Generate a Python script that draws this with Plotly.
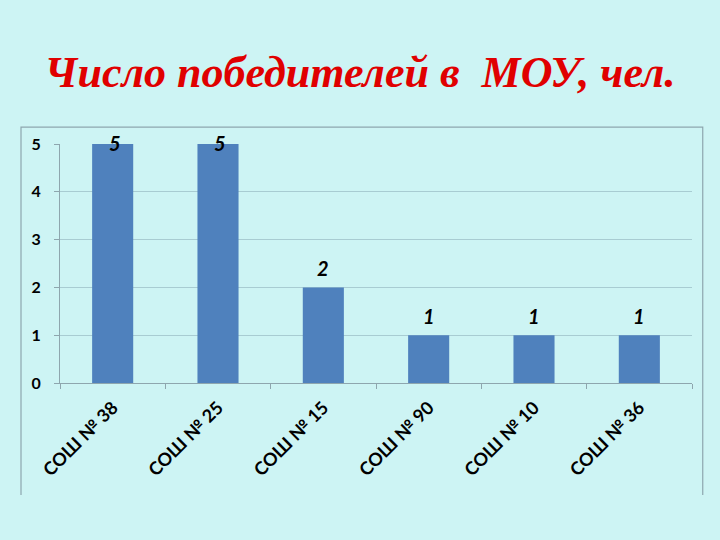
import plotly.graph_objects as go

categories = ["СОШ № 38", "СОШ № 25", "СОШ № 15", "СОШ № 90", "СОШ № 10", "СОШ № 36"]
values = [5, 5, 2, 1, 1, 1]
y_ticks = [0, 1, 2, 3, 4, 5]

BG = "#CDF4F4"
BAR = "#4F81BD"
AXIS = "#8EA6AE"
GRID = "#A8CCD2"

fig = go.Figure()
fig.add_trace(go.Bar(x=categories, y=values, marker=dict(color=BAR, line=dict(width=0)),
                     hoverinfo="skip"))

vmax = max(values)
for c, v in zip(categories, values):
    if v == vmax:
        fig.add_annotation(x=c, y=v, text=f"<b><i>{v}</i></b>", showarrow=False,
                           yanchor="middle", yshift=1, xshift=2,
                           font=dict(family="Lato", size=20, color="black"))
    else:
        fig.add_annotation(x=c, y=v, text=f"<b><i>{v}</i></b>", showarrow=False,
                           yanchor="bottom", yshift=5,
                           font=dict(family="Lato", size=20, color="black"))

# outer border (left, top, right)
fig.add_shape(type="path", xref="paper", yref="paper",
              path="M -0.0617,-0.4686 L -0.0617,1.071 L 1.017,1.071 L 1.017,-0.4686",
              line=dict(color=AXIS, width=1.2))

fig.update_layout(
    width=720, height=540,
    paper_bgcolor=BG, plot_bgcolor=BG,
    margin=dict(l=60, r=28, t=144, b=157),
    bargap=0.61,
    showlegend=False,
    title=dict(text="<b><i>Число победителей в  МОУ, чел.</i></b>",
               x=0.5, xanchor="center", y=0.868, yanchor="middle",
               font=dict(family="Liberation Serif", size=44, color="#E00000")),
    xaxis=dict(type="category", showline=True, linecolor=AXIS, linewidth=1.2,
               ticks="outside", tickson="boundaries", ticklen=5, tickcolor=AXIS,
               tickangle=-45, showgrid=False, ticklabelstandoff=6,
               tickfont=dict(family="Lato", size=18, color="black", weight="bold")),
    yaxis=dict(range=[0, 5], tickvals=y_ticks, showline=True, linecolor=AXIS, linewidth=1.2,
               ticks="outside", ticklen=5, tickcolor=AXIS, showgrid=True, gridcolor=GRID,
               gridwidth=1, zeroline=False, ticklabelstandoff=10,
               tickfont=dict(family="Lato", size=16, color="black", weight="bold")),
)

fig.write_html("out.html", config={"displayModeBar": False},
               post_script="document.body.style.margin='0';document.body.style.background='%s';" % BG)
